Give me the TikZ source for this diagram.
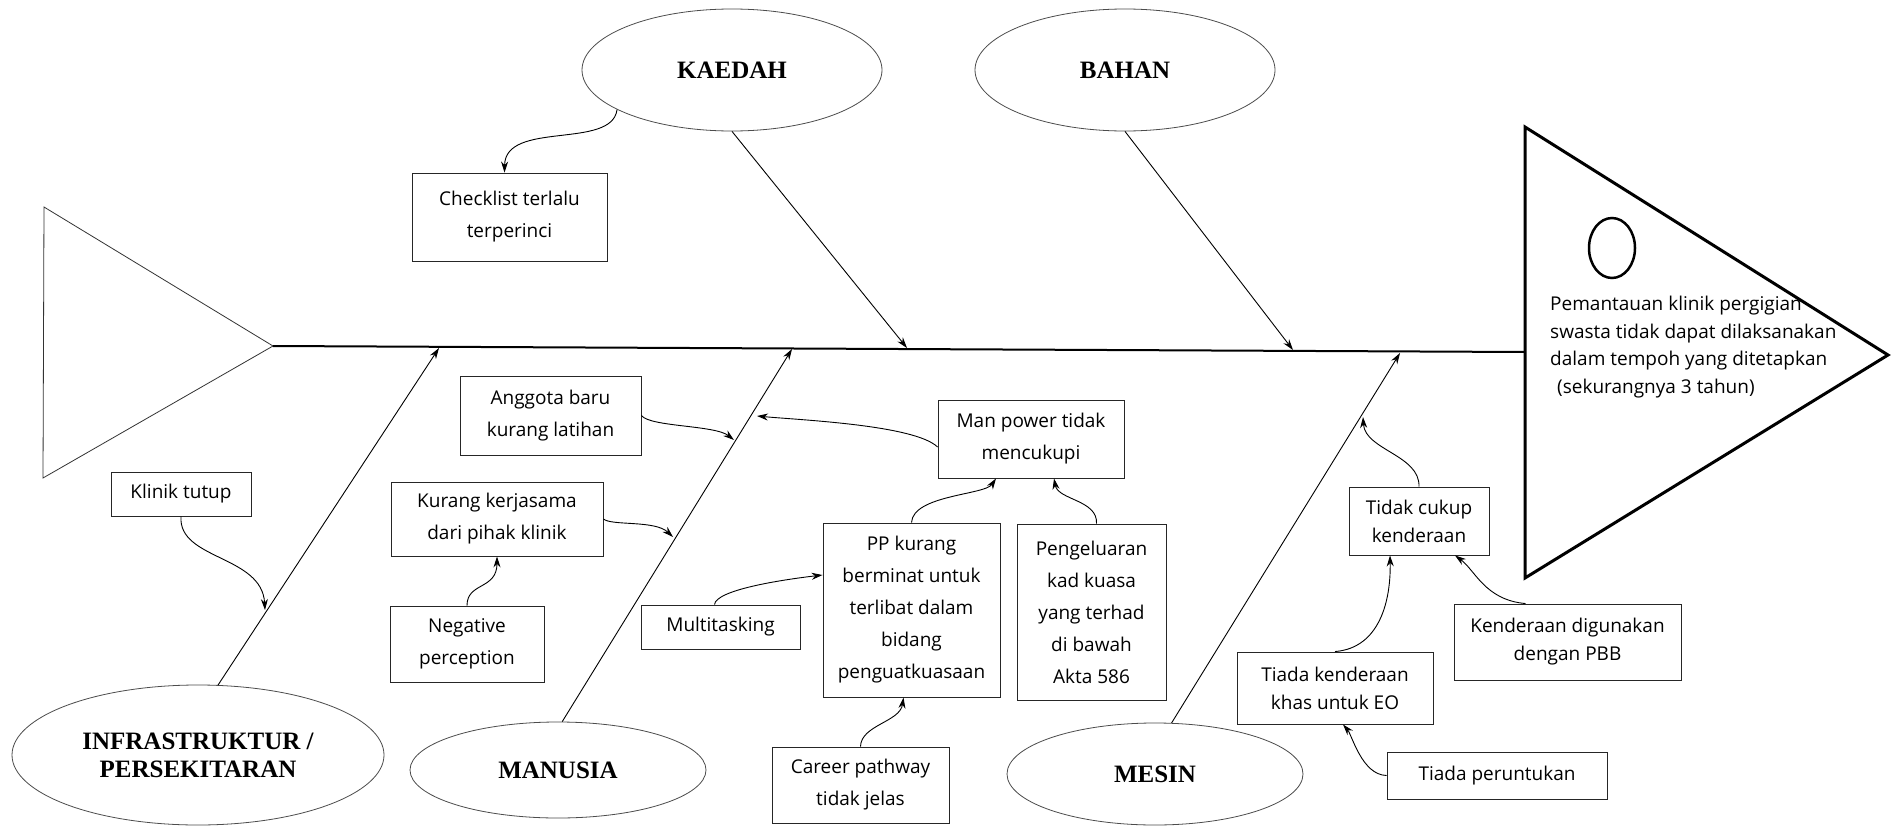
\documentclass[tikz,border=0pt]{standalone}
\usepackage{fontspec}
\setmainfont{Open Sans}
\newfontfamily\tms{Liberation Serif}
\usetikzlibrary{shapes.geometric,arrows.meta}
\begin{document}
\begin{tikzpicture}[x=1pt,y=-1pt,
  box/.style={draw=black!85,line width=0.9pt,inner sep=0pt,align=center,font=\fontsize{19}{32}\selectfont},
  boxr/.style={box,font=\fontsize{19}{28}\selectfont},
  cat/.style={ellipse,draw=black!70,line width=0.8pt,inner sep=0pt,align=center,font=\tms\bfseries\fontsize{25}{28}\selectfont},
  bone/.style={line width=0.9pt,-{Stealth[length=11pt,width=7pt]}},
  con/.style={line width=0.9pt,-{Stealth[length=11pt,width=7pt]}},
]
\fill[white] (0,0) rectangle (1891,827);
\useasboundingbox (0,0) rectangle (1891,827);

% tail
\coordinate (tailtip) at (273,346);
\draw[line width=0.8pt,black!80,line join=miter] (44,207) -- (tailtip) -- (43,478) -- cycle;
% head
\coordinate (headL) at (1525,352);
\draw[line width=3pt,line join=miter] (1525,127) -- (1888,355) -- (1525,578) -- cycle;
\node[draw,ellipse,line width=2.5pt,minimum width=46pt,minimum height=60pt,inner sep=0pt] (eye) at (1612,248) {};
\node[anchor=north west,align=left,inner sep=0pt,font=\fontsize{19}{27.5}\selectfont] (effect) at (1550,296)
 {Pemantauan klinik pergigian\\swasta tidak dapat dilaksanakan\\dalam tempoh yang ditetapkan\\\hspace*{7pt}(sekurangnya 3 tahun)};
% spine
\draw[line width=2pt] (tailtip) -- (headL);

% category ellipses
\node[cat,minimum width=300pt,minimum height=122pt] (kaedah) at (732,70) {KAEDAH};
\node[cat,minimum width=300pt,minimum height=122pt] (bahan) at (1125,70) {BAHAN};
\node[cat,minimum width=372pt,minimum height=140pt] (infra) at (198,755) {INFRASTRUKTUR /\\PERSEKITARAN};
\node[cat,minimum width=296pt,minimum height=96pt] (manusia) at (558,770) {MANUSIA};
\node[cat,minimum width=296pt,minimum height=102pt] (mesin) at (1155,774) {MESIN};

% bone ends
\coordinate (kT) at (907,348);
\coordinate (bT) at (1293,350);
\coordinate (iT) at (439,348);
\coordinate (mT) at (792,349);
\coordinate (sT) at (1400,353);
\draw[bone] (kaedah.south) -- (kT);
\draw[bone] (bahan.south) -- (bT);
\draw[bone] (infra.74) -- (iT);
\draw[bone] (manusia.85) -- (mT);
\draw[bone] (mesin.72) -- (sT);

% boxes
\node[box,minimum width=195pt,minimum height=88pt] (checklist) at (509.5,217) {Checklist terlalu\\terperinci};
\node[box,minimum width=181pt,minimum height=79pt] (anggota) at (550.5,415.5) {Anggota baru\\kurang latihan};
\node[box,minimum width=212pt,minimum height=74pt] (kurang) at (497,519) {Kurang kerjasama\\dari pihak klinik};
\node[box,minimum width=154pt,minimum height=76pt] (neg) at (467,644) {Negative\\perception};
\node[box,minimum width=140pt,minimum height=44pt] (klinik) at (181,494) {Klinik tutup};
\node[box,minimum width=159pt,minimum height=44pt] (multi) at (720.5,627) {Multitasking};
\node[box,minimum width=186pt,minimum height=78pt] (manpower) at (1031,439) {Man power tidak\\mencukupi};
\node[box,minimum width=177pt,minimum height=174pt] (pp) at (911.5,610) {PP kurang\\berminat untuk\\terlibat dalam\\bidang\\penguatkuasaan};
\node[box,minimum width=149pt,minimum height=176pt] (peng) at (1091.5,612) {Pengeluaran\\kad kuasa\\yang terhad\\di bawah\\Akta 586};
\node[box,minimum width=177pt,minimum height=76pt] (career) at (860.5,785) {Career pathway\\tidak jelas};
\node[boxr,minimum width=140pt,minimum height=68pt] (tidak) at (1419,521) {Tidak cukup\\kenderaan};
\node[boxr,minimum width=227pt,minimum height=76pt] (kend) at (1567.5,642) {Kenderaan digunakan\\dengan PBB};
\node[boxr,minimum width=196pt,minimum height=72pt] (tiada) at (1335,688) {Tiada kenderaan\\khas untuk EO};
\node[boxr,minimum width=220pt,minimum height=47pt] (peru) at (1497,775.5) {Tiada peruntukan};

% connector end points on bones
\coordinate (c1) at (265,610);
\coordinate (c2) at (734,440);
\coordinate (c3) at (673,537);
\coordinate (c4) at (757,416);
\coordinate (c5) at (1363,417);

\draw[con] (kaedah.199) .. controls (612,150) and (505,120) .. ([xshift=-5pt]checklist.north);
\draw[con] (klinik.south) .. controls (178,560) and (262,555) .. (c1);
\draw[con] (anggota.east) .. controls (650,427) and (715,425) .. (c2);
\draw[con] (kurang.east) .. controls (612,526) and (655,520) .. (c3);
\draw[con] (neg.north) .. controls (467,582) and (497,590) .. (kurang.south);
\draw[con] ([xshift=-6pt]multi.north) .. controls (716,590) and (780,580) .. ([yshift=35pt]pp.west);
\draw[con] ([yshift=-8pt]manpower.west) .. controls (915,425) and (800,420) .. (c4);
\draw[con] (pp.north) .. controls (913,495) and (985,495) .. ([xshift=-35pt]manpower.south);
\draw[con] ([xshift=5pt]peng.north) .. controls (1098,500) and (1058,500) .. ([xshift=23pt]manpower.south);
\draw[con] (career.north) .. controls (861,725) and (900,722) .. ([xshift=-8pt]pp.south);
\draw[con] (tidak.north) .. controls (1420,455) and (1365,450) .. (c5);
\draw[con] (tiada.north) .. controls (1380,648) and (1391,600) .. ([xshift=-29pt]tidak.south);
\draw[con] ([xshift=-42pt]kend.north) .. controls (1485,600) and (1475,570) .. ([xshift=36pt]tidak.south);
\draw[con] (peru.west) .. controls (1362,775) and (1352,735) .. ([xshift=8pt]tiada.south);
\end{tikzpicture}
\end{document}
